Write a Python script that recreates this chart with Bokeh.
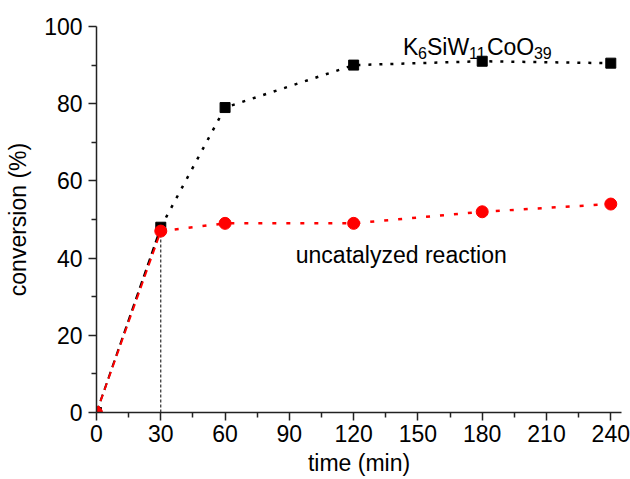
from bokeh.plotting import figure
from bokeh.models import FixedTicker, Range1d
from bokeh.core.properties import value
from bokeh.embed import file_html
from bokeh.resources import INLINE

# data
times = [0, 30, 60, 120, 180, 240]
catalyzed = [0, 48, 79, 90, 91, 90.5]
uncatalyzed = [0, 47, 49, 49, 52, 54]
x_ticks = [0, 30, 60, 90, 120, 150, 180, 210, 240]
x_minor = [15, 45, 75, 105, 135, 165, 195, 225]
y_ticks = [0, 20, 40, 60, 80, 100]
y_minor = [10, 30, 50, 70, 90]
formula_parts = ["K", "6", "SiW", "11", "CoO", "39"]
uncat_label = "uncatalyzed reaction"
x_title = "time (min)"
y_title = "conversion (%)"

FONT = "Liberation Sans"
FS = "23px"

p = figure(width=630, height=479, output_backend="svg", toolbar_location=None,
           x_range=Range1d(0, 245), y_range=Range1d(0, 100),
           min_border_left=96, min_border_right=9, min_border_top=26, min_border_bottom=67)
p.outline_line_color = None
p.xgrid.visible = False
p.ygrid.visible = False
p.background_fill_color = "white"
p.border_fill_color = "white"

for ax in (p.xaxis[0], p.yaxis[0]):
    ax.axis_line_color = "#222222"
    ax.axis_line_width = 1.5
    ax.major_tick_line_color = "#222222"
    ax.minor_tick_line_color = "#222222"
    ax.major_tick_line_width = 1.5
    ax.minor_tick_line_width = 1.5
    ax.major_tick_in = 0
    ax.major_tick_out = 8
    ax.minor_tick_in = 0
    ax.minor_tick_out = 5
    ax.major_label_text_font = FONT
    ax.major_label_text_font_size = FS
    ax.major_label_text_color = "black"
    ax.axis_label_text_font = FONT
    ax.axis_label_text_font_size = FS
    ax.axis_label_text_font_style = "normal"
    ax.axis_label_text_color = "black"

p.xaxis.ticker = FixedTicker(ticks=x_ticks, minor_ticks=x_minor)
p.yaxis.ticker = FixedTicker(ticks=y_ticks, minor_ticks=y_minor)
p.xaxis.axis_label = x_title
p.yaxis.axis_label = y_title
p.xaxis.major_label_standoff = 4
p.yaxis.major_label_standoff = 6
p.xaxis.axis_label_standoff = 5
p.yaxis.axis_label_standoff = 10

# vertical guide at second point
p.segment(x0=[times[1]], y0=[0], x1=[times[1]], y1=[uncatalyzed[1]],
          line_color="black", line_width=1, line_dash="3 2")

# catalyzed (black)
p.line(times[:2], catalyzed[:2], line_color="black", line_width=2, line_dash="7 5")
p.line(times[1:], catalyzed[1:], line_color="black", line_width=2.5, line_dash="3 8")
p.scatter(times, catalyzed, marker="square", size=10, fill_color="black", line_color="black")

# uncatalyzed (red)
p.line(times[:2], uncatalyzed[:2], line_color="red", line_width=2, line_dash="7 5")
p.line(times[1:], uncatalyzed[1:], line_color="red", line_width=2.5, line_dash="4 10")
p.scatter(times, uncatalyzed, marker="circle", size=12, fill_color="red", line_color="red")

# formula annotation with subscripts
fx, fy = 143.0, 94.6
offsets = [0, 15, 24, 66, 84, 131]
sub = [False, True, False, True, False, True]
for part, off, s in zip(formula_parts, offsets, sub):
    p.text(x=[fx], y=[fy], text=[part], x_offset=off, y_offset=6 if s else 0,
           text_font=value(FONT), text_font_size="16px" if s else FS,
           text_color="black", text_baseline="alphabetic", text_align="left")

p.text(x=[93.0], y=[40.7], text=[uncat_label], text_font=value(FONT),
       text_font_size=FS, text_color="black", text_baseline="alphabetic", text_align="left")

open("out.html", "w").write(file_html(p, INLINE))
